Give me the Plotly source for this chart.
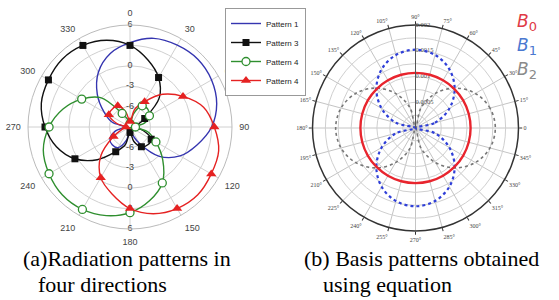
import plotly.graph_objects as go

# ---------------- data: (a) radiation patterns, dB, theta step 15 deg ----------------
theta_a = [0, 15, 30, 45, 60, 75, 90, 105, 120, 135, 150, 165, 180,
           195, 210, 225, 240, 255, 270, 285, 300, 315, 330, 345, 360]
pattern1 = [3.4, 4.5, 4.9, 5.1, 4.85, 4.2, 3.0, 1.2, -0.5, -2.9, -6.2, -7.9, -8.4,
            -7.0, -5.5, -5.3, -5.6, -6.8, -8.2, -6.3, -4.6, -2.2, 0.3, 2.2, 3.4]
pattern3 = [3.0, 1.2, -0.6, -2.9, -6.5, -7.9, -8.4, -7.0, -5.4, -5.3, -5.65, -6.8, -8.2,
            -6.3, -4.8, -2.2, 0.35, 2.2, 3.5, 4.5, 4.85, 5.1, 4.85, 4.2, 3.0]
pattern4g = [-8.5, -7.0, -5.4, -5.3, -5.7, -6.8, -8.2, -6.3, -4.6, -2.2, 0.5, 2.2, 3.6,
             4.5, 5.0, 5.1, 4.75, 4.2, 2.9, 1.2, -0.8, -2.9, -6.7, -7.9, -8.5]
pattern4r = [-8.2, -6.3, -4.7, -2.2, 0.0, 2.2, 3.4, 4.5, 4.8, 5.1, 4.85, 4.2, 3.0,
             1.2, -0.4, -2.9, -6.2, -7.9, -8.4, -7.0, -5.4, -5.3, -5.4, -6.8, -8.2]
radial_ticks_a = [6, 3, 0, -3, -6]
ang_ticks_a = [0, 30, 60, 90, 120, 150, 180, 210, 240, 270, 300, 330]

# ---------------- data: (b) basis patterns, theta step 15 deg ----------------
theta_b = [0, 15, 30, 45, 60, 75, 90, 105, 120, 135, 150, 165, 180,
           195, 210, 225, 240, 255, 270, 285, 300, 315, 330, 345, 360]
b0 = [0.00107] * 25
b1 = [0.0, 0.000393, 0.00076, 0.001075, 0.001316, 0.001468, 0.00152, 0.001468, 0.001316,
      0.001075, 0.00076, 0.000393, 0.0, 0.000393, 0.00076, 0.001075, 0.001316, 0.001468,
      0.00152, 0.001468, 0.001316, 0.001075, 0.00076, 0.000393, 0.0]
b2 = [0.00155, 0.001497, 0.001342, 0.001096, 0.000775, 0.000401, 0.0, 0.000401, 0.000775,
      0.001096, 0.001342, 0.001497, 0.00155, 0.001497, 0.001342, 0.001096, 0.000775, 0.000401,
      0.0, 0.000401, 0.000775, 0.001096, 0.001342, 0.001497, 0.00155]
ang_ticks_b = list(range(0, 360, 15))
ang_text_b = ['0'] + [f'{a}\u00b0' for a in ang_ticks_b[1:]]
radial_ticks_b = [0.002, 0.0015, 0.001, 0.0005]
radial_text_b = ['0.002', '0.0015', '0.001', '0.0005']

BLUE = '#3535b0'
BLACK = '#111111'
GREEN = '#2f8f2f'
RED = '#e52222'

fig = go.Figure()

# radial labels (a), drawn first so markers cover them
for th in (0, 180):
    fig.add_trace(go.Scatterpolar(
        r=radial_ticks_a, theta=[th] * len(radial_ticks_a), mode='text',
        text=[str(v) for v in radial_ticks_a], cliponaxis=False,
        textfont=dict(size=9, color='#444', family='Liberation Sans'),
        showlegend=False, hoverinfo='skip', subplot='polar'))

series = [
    ('Pattern 1', pattern1, BLUE, None),
    ('Pattern 3', pattern3, BLACK, dict(symbol='square', size=7, color=BLACK)),
    ('Pattern 4', pattern4g, GREEN, dict(symbol='circle', size=8, color='white',
                                          line=dict(width=1.3, color=GREEN))),
    ('Pattern 4', pattern4r, RED, dict(symbol='triangle-up', size=9, color=RED)),
]
for name, vals, col, mk in series:
    fig.add_trace(go.Scatterpolar(
        r=vals, theta=theta_a, mode='lines', line=dict(color=col, width=1.4, shape='spline'),
        showlegend=False, hoverinfo='skip', subplot='polar'))
for name, vals, col, mk in series:
    if mk is not None:
        fig.add_trace(go.Scatterpolar(
            r=vals[:-1:2], theta=theta_a[:-1:2], mode='markers', marker=mk,
            showlegend=False, hoverinfo='skip', subplot='polar'))
# legend entries
for name, vals, col, mk in series:
    fig.add_trace(go.Scatterpolar(r=[None], theta=[None],
                                  mode='lines' if mk is None else 'lines+markers', name=name,
                                  line=dict(color=col, width=1.4), marker=mk, subplot='polar'))

# (b) basis patterns
fig.add_trace(go.Scatterpolar(
    r=radial_ticks_b, theta=[90] * 4, mode='text', text=radial_text_b, textposition='middle right',
    cliponaxis=False, textfont=dict(size=6.5, color='#555', family='Liberation Serif'),
    showlegend=False, hoverinfo='skip', subplot='polar2'))
fig.add_trace(go.Scatterpolar(r=b2, theta=theta_b, mode='lines',
                              line=dict(color='#777777', width=1.6, dash='dot', shape='spline'),
                              showlegend=False, hoverinfo='skip', subplot='polar2'))
fig.add_trace(go.Scatterpolar(r=b1, theta=theta_b, mode='lines',
                              line=dict(color='#2f3fd8', width=2.2, dash='dot', shape='spline'),
                              showlegend=False, hoverinfo='skip', subplot='polar2'))
fig.add_trace(go.Scatterpolar(r=b0, theta=theta_b, mode='lines',
                              line=dict(color='#e8252e', width=2.4, shape='spline'),
                              showlegend=False, hoverinfo='skip', subplot='polar2'))

W, H = 559, 300
fig.update_layout(
    width=W, height=H, margin=dict(l=0, r=0, t=0, b=0),
    paper_bgcolor='white', plot_bgcolor='white',
    font=dict(family='Liberation Sans', color='#333'),
    polar=dict(
        domain=dict(x=[28 / W, 232 / W], y=[1 - 229 / H, 1 - 25 / H]),
        bgcolor='white',
        angularaxis=dict(direction='clockwise', rotation=90, tickmode='array',
                         tickvals=ang_ticks_a, ticktext=[str(a) for a in ang_ticks_a],
                         showline=True, linecolor='#bbbbbb', linewidth=1,
                         gridcolor='#d0d0d0', ticks='outside', ticklen=5,
                         tickcolor='rgba(0,0,0,0)',
                         tickfont=dict(size=9, color='#444', family='Liberation Sans')),
        radialaxis=dict(range=[-9, 6], tickvals=radial_ticks_a, showticklabels=False,
                        ticks='', showline=False, gridcolor='#d0d0d0', angle=90),
    ),
    polar2=dict(
        domain=dict(x=[312.5 / W, 518.5 / W], y=[1 - 231 / H, 1 - 25 / H]),
        bgcolor='white',
        angularaxis=dict(direction='counterclockwise', rotation=0, tickmode='array',
                         tickvals=ang_ticks_b, ticktext=ang_text_b,
                         showline=True, linecolor='#333333', linewidth=1.5,
                         gridcolor='#c4c4c4', ticks='outside', ticklen=3, tickcolor='#333',
                         tickfont=dict(size=6, color='#444', family='Liberation Serif')),
        radialaxis=dict(range=[0, 0.002],
                        tickvals=[0.00025, 0.0005, 0.00075, 0.001, 0.00125, 0.0015, 0.00175, 0.002],
                        showticklabels=False, ticks='', showline=True, linecolor='#555',
                        linewidth=1, gridcolor='#cfcfcf', angle=90),
    ),
    legend=dict(x=225 / W, y=1 - 8 / H, xanchor='left', yanchor='top',
                bgcolor='white', bordercolor='#999', borderwidth=1,
                font=dict(size=8, color='#222', family='Liberation Sans'),
                itemwidth=30, tracegroupgap=0),
)

ann = [
    dict(text='(a)Radiation patterns in', x=21 / W, y=1 - 258 / H),
    dict(text='four directions', x=36 / W, y=1 - 284 / H),
    dict(text='(b) Basis patterns obtained', x=302 / W, y=1 - 258 / H),
    dict(text='using equation', x=321 / W, y=1 - 284 / H),
]
for a in ann:
    fig.add_annotation(xref='paper', yref='paper', xanchor='left', yanchor='middle',
                       showarrow=False, font=dict(size=22, color='black', family='Liberation Serif'),
                       **a)
for sub, col, yy in [('0', '#e03a46', 22), ('1', '#4a78d0', 46), ('2', '#8a8a8a', 70)]:
    fig.add_annotation(xref='paper', yref='paper', xanchor='left', yanchor='middle',
                       x=515 / W, y=1 - yy / H,
                       text=f'<i>B</i><sub><span style="font-size:13px">{sub}</span></sub>',
                       showarrow=False,
                       font=dict(size=17, color=col, family='DejaVu Sans'))

fig.write_html('out.html', post_script="document.body.style.margin='0';",
               config={'displayModeBar': False})
